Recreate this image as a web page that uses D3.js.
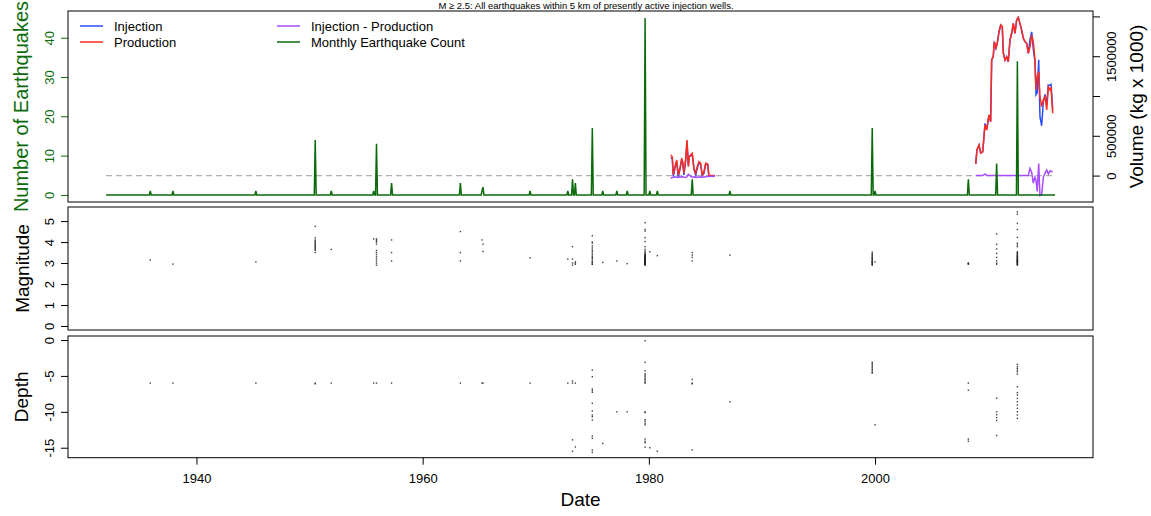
<!DOCTYPE html>
<html>
<head>
<meta charset="utf-8">
<script src="https://cdn.jsdelivr.net/npm/d3@7"></script>
<style>
  body { margin: 0; background: #fff; }
  svg { font-family: "Liberation Sans", Arial, Helvetica, sans-serif; }
</style>
</head>
<body>
<svg id="chart" width="1151" height="516"></svg>
<script>
// ---- data ---------------------------------------------------------------

// months with earthquakes, and the magnitudes / depths seen in that month
var eqMonth = ["1935-12","1937-12","1945-04","1950-07","1951-12","1955-09","1955-12","1957-04",
  "1963-05","1965-04","1965-05","1969-07","1972-11","1973-04","1973-07","1975-01","1975-12",
  "1977-03","1978-02","1979-09","1980-02","1980-10","1983-11","1987-03","1999-10","2000-01",
  "2008-04","2010-10","2012-08"]

var eqMag = [
  [3.15], [2.95], [3.05],
  [4.75,4.2,4.1,4.05,4.0,3.95,3.9,3.85,3.8,3.75,3.7,3.65,3.6,3.5],
  [3.65], [4.15],
  [4.15,4.1,4.05,4.0,3.9,3.6,3.5,3.4,3.3,3.2,3.1,3.0,2.9],
  [4.1,3.5,3.1], [4.5,3.5,3.1], [4.1], [3.9,3.55], [3.25], [3.19],
  [3.78,3.19,3.0,2.9], [3.06,2.94,3.0],
  [4.3,4.0,3.95,3.82,3.72,3.62,3.55,3.46,3.38,3.3,3.25,3.19,3.1,3.05,3.02,2.95,2.94],
  [3.03], [3.1], [2.97],
  [4.92,4.6,4.52,4.21,4.02,3.78,3.65,3.57,3.51,3.46,3.41,3.38,3.33,3.3,3.25,3.22,3.17,3.14,
   3.1,3.06,3.02,2.98,2.94,2.9,3.0,3.05,3.1,3.15,3.2,3.25,3.3,3.35,3.4,2.95,3.0,3.05,3.1,3.12,
   3.2,3.08,2.92,2.96,3.0,3.15,3.28],
  [3.54], [3.35], [3.5,3.38,3.27,3.1], [3.38],
  [3.52,3.45,3.4,3.35,3.3,3.25,3.22,3.2,3.15,3.1,3.08,3.05,3.02,3.0,2.96,2.93,2.9],
  [3.05], [3.0,2.98,2.96,2.95],
  [4.38,3.89,3.67,3.46,3.27,3.11,2.94,3.0],
  [5.44,5.33,4.89,4.6,4.22,3.94,3.86,3.78,3.54,3.49,3.43,3.38,3.33,3.3,3.27,3.22,3.17,3.14,
   3.11,3.06,3.02,2.98,2.95,2.9,3.0,3.05,3.1,3.2,3.25,3.35,3.45,2.92,3.08,3.15]
]

var eqDepth = [
  [-6], [-6], [-6], [-6,-6.1], [-6], [-6], [-6], [-6], [-6], [-6], [-6], [-6], [-6],
  [-5.7,-6,-13.9,-15.5], [-6,-14.9],
  [-4.18,-5.11,-6.82,-7.06,-7.28,-8.82,-9.89,-10.45,-10.68,-11.14,-13.37,-13.69,-15.32,-15.64],
  [-14.4], [-10], [-10],
  [-0.1,-3.1,-4.3,-4.7,-4.9,-5.1,-5.3,-5.5,-5.7,-5.9,-6.0,-10.0,-10.1,-11.1,-11.3,-11.6,-11.8,
   -13.8,-14.1,-14.3,-14.9],
  [-15], [-15.5], [-5.5,-6.1,-15.3,-6], [-8.6],
  [-3.1,-3.3,-3.5,-3.7,-3.9,-4.1,-4.3,-4.5,-4.6],
  [-11.8], [-6.0,-7.0,-13.8,-14.1],
  [-8.1,-10.0,-10.4,-10.8,-11.2,-13.3],
  [-3.39,-3.71,-3.95,-4.18,-4.41,-4.74,-6.5,-7.34,-7.66,-8.13,-8.59,-9.05,-9.52,-9.98,-10.45,-10.91]
]

// monthly earthquake count runs over this span
var countStart = 1932, countEnd = 2015   // whole years, Jan..Dec

// volumes, kg x 1000 : first active period
var volYearA = [1981.93,1982.07,1982.16,1982.31,1982.46,1982.60,1982.75,1982.90,1982.99,
  1983.10,1983.26,1983.37,1983.49,1983.58,1983.70,1983.84,1983.99,1984.14,1984.28,1984.43,
  1984.58,1984.72,1984.87,1985.02,1985.20,1985.31,1985.84]
var productionA = [259000,237000,8000,112000,196000,8000,92000,217000,175000,29000,217000,
  447000,112000,237000,259000,280000,92000,29000,112000,175000,155000,8000,49000,155000,
  146000,0,0]
var injMinusProdA = [-34000,-25000,-20000,-15000,-20000,-25000,-15000,-20000,-10000,-20000,
  -25000,-15000,16000,10000,-10000,-20000,-15000,-25000,-20000,-15000,-20000,-15000,-20000,
  -15000,-10000,-10000,-5000]

// second active period
var volYearB = [2008.90,2009.01,2009.19,2009.34,2009.52,2009.72,2009.87,2010.07,2010.22,
  2010.31,2010.45,2010.54,2010.69,2010.81,2010.96,2011.11,2011.25,2011.34,2011.49,2011.64,
  2011.78,2011.93,2012.08,2012.22,2012.37,2012.52,2012.66,2012.81,2012.96,2013.11,2013.26,
  2013.41,2013.55,2013.70,2013.85,2013.99,2014.14,2014.23,2014.34,2014.47,2014.58,2014.73,
  2014.88,2015.03,2015.18,2015.32,2015.47,2015.56,2015.71]
var productionB = [146000,322000,384000,284000,300000,636000,573000,761000,677000,1452000,
  1494000,1682000,1603000,1666000,1808000,1892000,1871000,1540000,1452000,1494000,1431000,
  1704000,1788000,1913000,1788000,1955000,1989000,1913000,1829000,1725000,1682000,1662000,
  1536000,1619000,1766000,1682000,1452000,1075000,1242000,1305000,991000,866000,950000,
  991000,824000,1117000,1075000,1097000,783000]
var injMinusProdB = [0,0,0,0,0,20000,0,0,0,0,0,0,0,0,0,0,0,0,0,0,0,0,0,0,0,0,0,0,0,0,0,0,0,
  90000,40000,-95000,-20000,-60000,-200000,150000,-250000,-240000,-20000,30000,70000,20000,
  60000,50000,50000]

var countTicks = [0,10,20,30,40]
var volTicks = [0,500000,1000000,1500000,2000000]
var volLabels = [0,500000,1500000]      // the ones R had room to print
var magTicks = [0,1,2,3,4,5]
var depthTicks = [0,-5,-10,-15]
var yearTicks = [1940,1960,1980,2000]

var legendItems = [
  {label:'Injection', color:'#2c4dff', col:0, row:0},
  {label:'Production', color:'#ff2b1c', col:0, row:1},
  {label:'Injection - Production', color:'#a84cff', col:1, row:0},
  {label:'Monthly Earthquake Count', color:'#0b6b0b', col:1, row:1}
]

// ---- build series ----------------------------------------------------------
function monthToYear(s){ var p = s.split('-'); return +p[0] + (+p[1]-1)/12 }
function plain(d){ return String(d) }   // R style labels, ascii minus

var countByMonth = {}
eqMonth.forEach(function(m,i){ countByMonth[m] = eqMag[i].length })
var monthly = []
for (var y = countStart; y <= countEnd; y++){
  for (var m = 1; m <= 12; m++){
    var key = y + '-' + (m < 10 ? '0'+m : m)
    monthly.push({t: y + (m-1)/12, c: countByMonth[key] || 0})
  }
}

function volSeries(years, prod, diff){
  return years.map(function(t,i){
    return {t:t, prod:prod[i], diff:diff[i], inj:prod[i]+diff[i]}
  })
}
var volA = volSeries(volYearA, productionA, injMinusProdA)
var volB = volSeries(volYearB, productionB, injMinusProdB)

var magPts = [], depthPts = []
eqMonth.forEach(function(m,i){
  var t = monthToYear(m)
  eqMag[i].forEach(function(v){ magPts.push({t:t, v:v}) })
  eqDepth[i].forEach(function(v){ depthPts.push({t:t, v:v}) })
})

// ---- layout ----------------------------------------------------------------
var svg = d3.select('#chart')
var left = 68, right = 1093
var p1 = {top:11, bottom:202}, p2 = {top:207, bottom:330}, p3 = {top:336, bottom:457.7}

var x = d3.scaleLinear().domain([1928.64, 2019.27]).range([left, right])
var yCount = d3.scaleLinear().domain([-1.8, 46.8]).range([p1.bottom, p1.top])
var yVol = d3.scaleLinear().domain([-332000, 2068000]).range([p1.bottom, p1.top])
var yMag = d3.scaleLinear().domain([-0.19, 5.67]).range([p2.bottom, p2.top])
var yDep = d3.scaleLinear().domain([-16.39, 0.56]).range([p3.bottom, p3.top])

// title sits in the thin strip above the first panel
svg.append('text').attr('x', 586).attr('y', 8.5).attr('text-anchor','middle')
  .style('font-size','9.5px').attr('fill','#000')
  .text('M \u2265 2.5: All earthquakes within 5 km of presently active injection wells.')

// ---- panel 1 : counts and volumes -------------------------------------------
var g1 = svg.append('g')

g1.append('line')
  .attr('x1', x(countStart)).attr('x2', x(countEnd + 11/12))
  .attr('y1', yVol(0)).attr('y2', yVol(0))
  .attr('stroke','#b0b0b0').attr('stroke-width',1.2).attr('stroke-dasharray','6,4')

var lineOf = function(key){
  return d3.line().x(function(d){ return x(d.t) }).y(function(d){ return yVol(d[key]) })
}
;[volA, volB].forEach(function(s){
  g1.append('path').datum(s).attr('d', lineOf('inj'))
    .attr('fill','none').attr('stroke', legendItems[0].color).attr('stroke-width',1.5)
  g1.append('path').datum(s).attr('d', lineOf('prod'))
    .attr('fill','none').attr('stroke', legendItems[1].color).attr('stroke-width',1.5)
  g1.append('path').datum(s).attr('d', lineOf('diff'))
    .attr('fill','none').attr('stroke', legendItems[2].color).attr('stroke-width',1.5)
})

g1.append('path').datum(monthly)
  .attr('d', d3.line().x(function(d){ return x(d.t) }).y(function(d){ return yCount(d.c) }))
  .attr('fill','none').attr('stroke', legendItems[3].color).attr('stroke-width',1.5)

// rotated tick labels like R's default las=0
function rotateLabels(ax, dx, color){
  ax.select('.domain').remove()
  ax.selectAll('line').attr('stroke', color)
  ax.selectAll('text').attr('x',0).attr('dy',0).attr('fill',color)
    .attr('text-anchor','middle').style('font-size','13px')
    .attr('transform','translate('+dx+',0) rotate(-90)')
}

var axL = g1.append('g').attr('transform','translate('+left+',0)')
  .call(d3.axisLeft(yCount).tickValues(countTicks).tickSize(7).tickSizeOuter(0).tickFormat(plain))
rotateLabels(axL, -14, '#0b6b0b')

var axR = g1.append('g').attr('transform','translate('+right+',0)')
  .call(d3.axisRight(yVol).tickValues(volTicks).tickSize(7).tickSizeOuter(0)
    .tickFormat(function(d){ return volLabels.indexOf(d) >= 0 ? plain(d) : '' }))
rotateLabels(axR, 23, '#000')

g1.append('text').attr('transform','translate(28,'+((p1.top+p1.bottom)/2)+') rotate(-90)')
  .attr('text-anchor','middle').style('font-size','20px').attr('fill','#0b6b0b')
  .text('Number of Earthquakes')
g1.append('text').attr('transform','translate(1143,'+((p1.top+p1.bottom)/2)+') rotate(-90)')
  .attr('text-anchor','middle').style('font-size','19px').attr('fill','#000')
  .text('Volume (kg x 1000)')

// legend
var lg = g1.append('g')
legendItems.forEach(function(it){
  var lx = it.col ? 277 : 80, ly = 26 + it.row * 16
  lg.append('line').attr('x1',lx).attr('x2',lx+23).attr('y1',ly).attr('y2',ly)
    .attr('stroke',it.color).attr('stroke-width',2).attr('opacity',0.75)
  lg.append('text').attr('x',lx+34).attr('y',ly+4.5).style('font-size','13px')
    .attr('fill','#000').text(it.label)
})

// ---- panel 2 : magnitude -------------------------------------------------------
var g2 = svg.append('g')
g2.selectAll('rect.pt').data(magPts).enter().append('rect').attr('class','pt')
  .attr('x', function(d){ return x(d.t) - 0.7 }).attr('y', function(d){ return yMag(d.v) - 0.7 })
  .attr('width',1.4).attr('height',1.4).attr('fill','#222').attr('opacity',0.85)

var axM = g2.append('g').attr('transform','translate('+left+',0)')
  .call(d3.axisLeft(yMag).tickValues(magTicks).tickSize(7).tickSizeOuter(0).tickFormat(plain))
rotateLabels(axM, -14, '#000')
g2.append('text').attr('transform','translate(29,'+((p2.top+p2.bottom)/2)+') rotate(-90)')
  .attr('text-anchor','middle').style('font-size','19px').attr('fill','#000').text('Magnitude')

// ---- panel 3 : depth -------------------------------------------------------------
var g3 = svg.append('g')
g3.selectAll('rect.pt').data(depthPts).enter().append('rect').attr('class','pt')
  .attr('x', function(d){ return x(d.t) - 0.7 }).attr('y', function(d){ return yDep(d.v) - 0.7 })
  .attr('width',1.4).attr('height',1.4).attr('fill','#222').attr('opacity',0.85)

var axD = g3.append('g').attr('transform','translate('+left+',0)')
  .call(d3.axisLeft(yDep).tickValues(depthTicks).tickSize(7).tickSizeOuter(0).tickFormat(plain))
rotateLabels(axD, -14, '#000')
g3.append('text').attr('transform','translate(28,'+((p3.top+p3.bottom)/2)+') rotate(-90)')
  .attr('text-anchor','middle').style('font-size','19px').attr('fill','#000').text('Depth')

var axX = g3.append('g').attr('transform','translate(0,'+p3.bottom+')')
  .call(d3.axisBottom(x).tickValues(yearTicks).tickSize(7).tickSizeOuter(0).tickFormat(plain))
axX.select('.domain').remove()
axX.selectAll('line').attr('stroke','#000')
axX.selectAll('text').attr('y',25).attr('dy',0).attr('fill','#000').style('font-size','13px')
g3.append('text').attr('x',(left+right)/2).attr('y',506).attr('text-anchor','middle')
  .style('font-size','19px').attr('fill','#000').text('Date')

// ---- panel frames ----------------------------------------------------------------
;[p1, p2, p3].forEach(function(p){
  svg.append('rect').attr('x',left).attr('y',p.top)
    .attr('width', right-left).attr('height', p.bottom-p.top)
    .attr('fill','none').attr('stroke','#000').attr('stroke-width',1)
})
</script>
</body>
</html>
